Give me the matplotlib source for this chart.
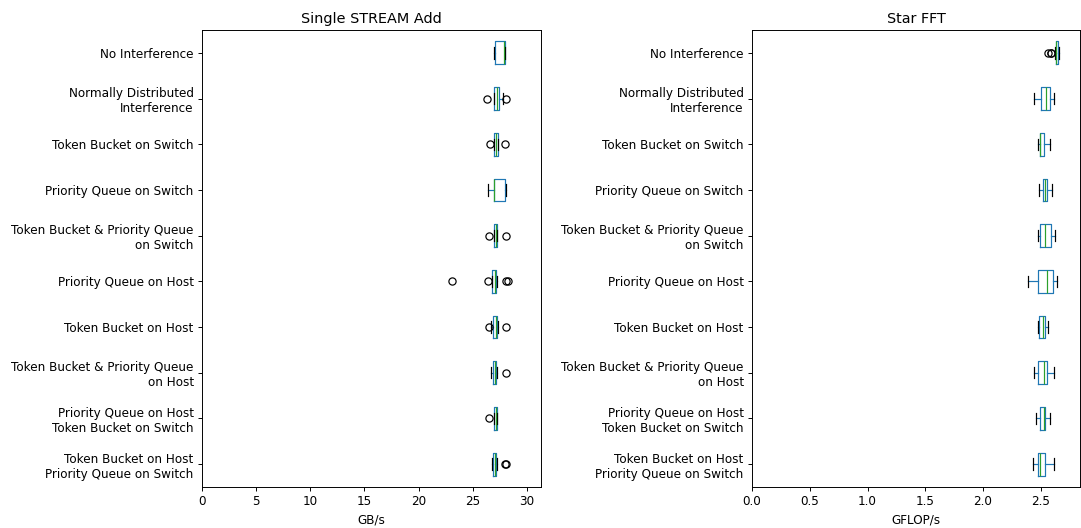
import matplotlib.pyplot as plt

labels = [
    "No Interference",
    "Normally Distributed\nInterference",
    "Token Bucket on Switch",
    "Priority Queue on Switch",
    "Token Bucket & Priority Queue\non Switch",
    "Priority Queue on Host",
    "Token Bucket on Host",
    "Token Bucket & Priority Queue\non Host",
    "Priority Queue on Host\nToken Bucket on Switch",
    "Token Bucket on Host\nPriority Queue on Switch",
]

# Single STREAM Add (GB/s) box statistics, one entry per scenario
stream_q1 = [27.05, 26.99, 27.00, 27.00, 27.00, 26.80, 26.90, 26.90, 27.00, 26.90]
stream_med = [27.90, 27.24, 27.15, 27.00, 27.10, 27.08, 27.18, 27.05, 27.10, 27.05]
stream_q3 = [28.00, 27.42, 27.30, 28.00, 27.27, 27.15, 27.20, 27.15, 27.20, 27.15]
stream_lo = [27.00, 26.95, 27.00, 26.40, 27.00, 26.75, 26.70, 26.70, 27.00, 26.80]
stream_hi = [28.00, 27.82, 27.30, 28.05, 27.27, 27.20, 27.35, 27.20, 27.20, 27.20]
stream_fliers = [
    [],
    [26.35, 28.10],
    [26.60, 27.95],
    [],
    [26.50, 28.05],
    [23.06, 26.38, 28.10, 28.22],
    [26.50, 28.05],
    [28.05],
    [26.47],
    [28.00, 28.10],
]

# Star FFT (GFLOP/s) box statistics
fft_q1 = [2.630, 2.506, 2.494, 2.517, 2.494, 2.477, 2.488, 2.480, 2.497, 2.480]
fft_med = [2.636, 2.546, 2.496, 2.535, 2.540, 2.552, 2.520, 2.532, 2.530, 2.497]
fft_q3 = [2.650, 2.584, 2.532, 2.552, 2.587, 2.607, 2.537, 2.552, 2.540, 2.540]
fft_lo = [2.625, 2.445, 2.480, 2.488, 2.480, 2.393, 2.477, 2.445, 2.457, 2.436]
fft_hi = [2.655, 2.613, 2.580, 2.598, 2.624, 2.639, 2.560, 2.613, 2.580, 2.613]
fft_fliers = [[2.567, 2.585, 2.592], [], [], [], [], [], [], [], [], []]


def box_stats(q1, med, q3, lo, hi, fliers):
    return [
        {"q1": a, "med": m, "q3": b, "whislo": l, "whishi": h, "fliers": f}
        for a, m, b, l, h, f in zip(q1, med, q3, lo, hi, fliers)
    ]


def draw(ax, stats, title, xlabel, xmax):
    pos = list(range(len(stats), 0, -1))
    ax.bxp(
        stats, positions=pos, vert=False, widths=0.5,
        boxprops=dict(color="#1f77b4"),
        whiskerprops=dict(color="#1f77b4"),
        medianprops=dict(color="#2ca02c"),
        capprops=dict(color="k"),
        flierprops=dict(marker="o", markerfacecolor="none",
                        markeredgecolor="k"),
    )
    ax.set_yticks(pos)
    ax.set_yticklabels(labels)
    ax.set_ylim(0.5, len(stats) + 0.5)
    ax.set_xlim(0, xmax)
    ax.set_title(title)
    ax.set_xlabel(xlabel)


DPI = 86.4
fig = plt.figure(figsize=(1081 / DPI, 528 / DPI), dpi=DPI)
ax1 = fig.add_axes([0.1869, 0.0777, 0.3136, 0.8655])
ax2 = fig.add_axes([0.6957, 0.0777, 0.3034, 0.8655])

draw(ax1, box_stats(stream_q1, stream_med, stream_q3, stream_lo, stream_hi,
                    stream_fliers), "Single STREAM Add", "GB/s", 31.3)
draw(ax2, box_stats(fft_q1, fft_med, fft_q3, fft_lo, fft_hi, fft_fliers),
     "Star FFT", "GFLOP/s", 2.84)

fig.savefig("out.png", dpi=DPI)
